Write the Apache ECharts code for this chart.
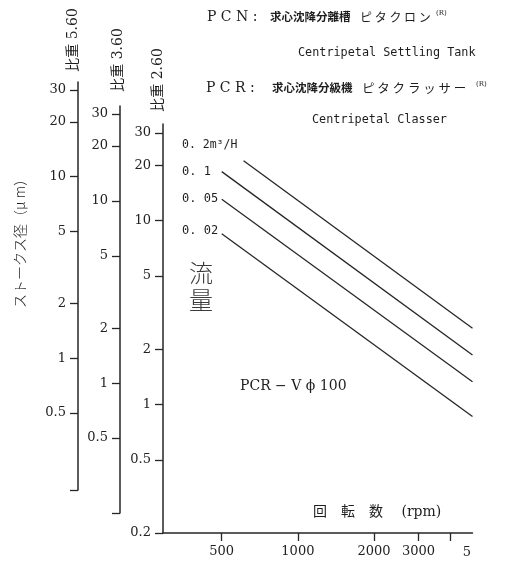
<!DOCTYPE html>
<html><head><meta charset="utf-8">
<script src="https://cdn.jsdelivr.net/npm/echarts@6/dist/echarts.min.js"></script>
<style>html,body{margin:0;padding:0;background:#fff}#c{width:520px;height:563px}</style>
</head><body><div id="c"></div>
<script>
// ---- data ----
const rpmTickValues = [500, 1000, 2000, 3000, 4000];
const rpmLabelValues = [500, 1000, 2000, 3000];
const sizeTicksSG260 = [0.2, 0.5, 1, 2, 5, 10, 20, 30];
const sizeTicksSG360 = [0.5, 1, 2, 5, 10, 20, 30];
const sizeTicksSG560 = [0.5, 1, 2, 5, 10, 20, 30];
const flowLabels = ['0. 2m³/H', '0. 1', '0. 05', '0. 02'];
const rpmFlow02 = [610, 4900];  const sizeFlow02 = [21.2, 2.6];
const rpmFlow01 = [500, 4900];  const sizeFlow01 = [18.5, 1.86];
const rpmFlow005 = [500, 4900]; const sizeFlow005 = [13.1, 1.33];
const rpmFlow002 = [500, 4900]; const sizeFlow002 = [8.5, 0.86];
const rpmRange = [293, 4900];
const rangeSG260 = [0.2, 33.6];
const rangeSG360 = [0.194, 33.2];
const rangeSG560 = [0.188, 33.2];

const L = Math.log10;
const fmt = v => String(parseFloat(Math.pow(10, v).toPrecision(3)));
const INK = '#262626';
const SERIF = '"DejaVu Serif", "Noto Sans CJK JP", serif';
const CJK = '"Noto Sans CJK JP", sans-serif';
const MONO = '"DejaVu Sans Mono", monospace';

function yAx(gridIndex, range, ticks, foot) {
  const lo = L(range[0]), hi = L(range[1]);
  const tv = ticks.map(L);
  return {
    type: 'value', gridIndex, min: lo, max: hi, position: 'left',
    axisLine: { show: true, onZero: false, lineStyle: { color: INK, width: 1.5 } },
    axisTick: { show: true, inside: false, length: 8, customValues: foot ? [lo].concat(tv) : tv,
      lineStyle: { color: INK, width: 1.3 } },
    axisLabel: { show: true, customValues: tv, formatter: fmt, margin: 12,
      fontFamily: SERIF, fontSize: 13, color: '#222' },
    splitLine: { show: false }
  };
}
function line(rpm, size) {
  return {
    type: 'line', xAxisIndex: 0, yAxisIndex: 0, symbol: 'none', silent: true,
    lineStyle: { color: INK, width: 1.3 },
    data: rpm.map((r, i) => [L(r), L(size[i])])
  };
}
function T(x, y, text, o) {
  o = o || {};
  return { type: 'text', x, y, rotation: o.rot || 0, silent: true,
    style: { text, fill: o.fill || '#1e1e1e', fontSize: o.size || 13, fontFamily: o.family || SERIF,
      fontWeight: o.weight || 'normal', align: o.align || 'left', verticalAlign: 'middle',
      lineHeight: o.lh } };
}

const chart = echarts.init(document.getElementById('c'), null, { renderer: 'canvas' });
chart.setOption({
  animation: false,
  backgroundColor: '#ffffff',
  grid: [
    { left: 163, right: 47.5, top: 124, bottom: 30 },
    { left: 120, width: 10, top: 106, bottom: 50 },
    { left: 78, width: 10, top: 82, bottom: 73 }
  ],
  xAxis: [
    { type: 'value', gridIndex: 0, min: L(rpmRange[0]), max: L(rpmRange[1]), position: 'bottom',
      axisLine: { show: true, onZero: false, lineStyle: { color: INK, width: 1.5 } },
      axisTick: { show: true, inside: false, length: 8, customValues: rpmTickValues.map(L),
        lineStyle: { color: INK, width: 1.3 } },
      axisLabel: { customValues: rpmLabelValues.map(L), formatter: fmt, margin: 12,
        fontFamily: SERIF, fontSize: 13, color: '#222' },
      splitLine: { show: false } },
    { type: 'value', gridIndex: 1, min: 0, max: 1, show: false },
    { type: 'value', gridIndex: 2, min: 0, max: 1, show: false }
  ],
  yAxis: [
    yAx(0, rangeSG260, sizeTicksSG260, false),
    yAx(1, rangeSG360, sizeTicksSG360, true),
    yAx(2, rangeSG560, sizeTicksSG560, true)
  ],
  series: [
    line(rpmFlow02, sizeFlow02),
    line(rpmFlow01, sizeFlow01),
    line(rpmFlow005, sizeFlow005),
    line(rpmFlow002, sizeFlow002)
  ],
  graphic: [
    T(207, 17, 'P C N :', { size: 14 }),
    T(270, 17, '求心沈降分離槽', { family: CJK, size: 11.5, weight: 'bold' }),
    T(360, 17, 'ピ タ ク ロ ン', { family: CJK, size: 12 }),
    T(436, 13, '(R)', { size: 7 }),
    T(298, 53, 'Centripetal Settling Tank', { family: MONO, size: 11.8 }),
    T(206, 88, 'P C R :', { size: 14 }),
    T(272, 88, '求心沈降分級機', { family: CJK, size: 11.5, weight: 'bold' }),
    T(362, 88, 'ピ タ ク ラ ッ サ ー', { family: CJK, size: 12.5 }),
    T(476, 84, '(R)', { size: 7 }),
    T(312, 120, 'Centripetal Classer', { family: MONO, size: 11.8 }),
    T(73, 40, '比重 5.60', { rot: Math.PI / 2, align: 'center', size: 14 }),
    T(118, 60, '比重 3.60', { rot: Math.PI / 2, align: 'center', size: 14 }),
    T(158, 80, '比重 2.60', { rot: Math.PI / 2, align: 'center', size: 14 }),
    T(20, 240, 'ストークス径（μ m）', { rot: Math.PI / 2, align: 'center', size: 14, family: CJK, weight: 300 }),
    T(182, 145, flowLabels[0], { family: MONO, size: 11.5 }),
    T(182, 172, flowLabels[1], { family: MONO, size: 12 }),
    T(182, 199, flowLabels[2], { family: MONO, size: 12 }),
    T(182, 231, flowLabels[3], { family: MONO, size: 12 }),
    T(201, 286, '流\n量', { family: CJK, size: 24, weight: 300, align: 'center', lh: 27, fill: '#3a3a3a' }),
    T(240, 386, 'PCR − V ϕ 100', { size: 14 }),
    T(313, 512, '回　転　数　 (rpm)', { size: 14 }),
    T(467, 553, '5', { size: 13, align: 'center' })
  ]
});
</script></body></html>
